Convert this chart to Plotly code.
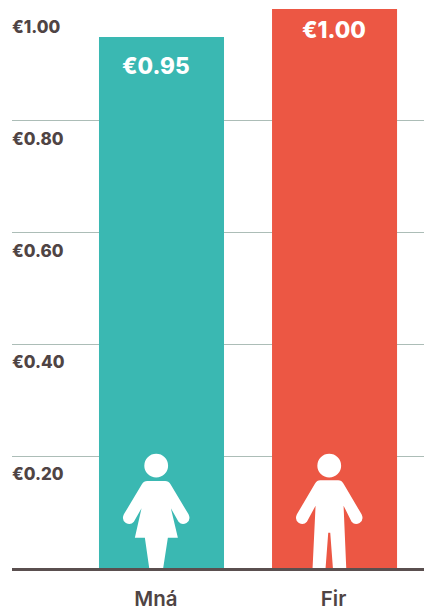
import plotly.graph_objects as go

categories = ["Mná", "Fir"]
bar_positions = [0, 1]
label_positions = [-0.032, 0.994]
values = [0.95, 1.00]
value_labels = ["€0.95", "€1.00"]
bar_colors = ["#3AB8B2", "#EC5744"]
tick_values = [0.2, 0.4, 0.6, 0.8, 1.0]
tick_labels = ["€0.20", "€0.40", "€0.60", "€0.80", "€1.00"]

INK = "#4F4444"
FONT = "Inter"
ICON_SHIFT = -5.3


def z(x, y, cx):
    """Icon outline point, pixels relative to the bar's base."""
    return f"{(x - cx) / 3 + ICON_SHIFT:.2f},{(411 - y) / 3:.2f}"


def path(cmds, cx):
    out = []
    for c in cmds:
        letter, pts = c[0], c[1:]
        out.append(letter + " ".join(z(px, py, cx) for px, py in pts))
    return " ".join(out) + " Z"


woman = [
    ("M", (172, 150)), ("L", (226, 150)), ("Q", (236, 150), (242, 160)),
    ("L", (296, 250)), ("Q", (304, 266), (290, 276)), ("Q", (276, 284), (266, 272)),
    ("L", (243, 232)), ("L", (264, 320)), ("L", (234, 320)), ("L", (220, 411)),
    ("L", (178, 411)), ("L", (165, 320)), ("L", (135, 320)), ("L", (155, 232)),
    ("L", (132, 272)), ("Q", (122, 284), (108, 276)), ("Q", (94, 266), (102, 250)),
    ("L", (156, 160)), ("Q", (162, 150), (172, 150)),
]
man = [
    ("M", (690, 148)), ("L", (744, 148)), ("Q", (754, 148), (760, 158)),
    ("L", (814, 250)), ("Q", (822, 266), (808, 276)), ("Q", (794, 284), (784, 272)),
    ("L", (760, 224)), ("L", (768, 411)), ("L", (728, 411)), ("L", (720, 305)),
    ("L", (714, 305)), ("L", (706, 411)), ("L", (667, 411)), ("L", (676, 224)),
    ("L", (650, 272)), ("Q", (640, 284), (626, 276)), ("Q", (612, 266), (620, 250)),
    ("L", (674, 158)), ("Q", (680, 148), (690, 148)),
]

fig = go.Figure(
    go.Bar(
        x=bar_positions,
        y=values,
        width=0.7225,
        marker=dict(color=bar_colors, line=dict(width=0)),
        hoverinfo="skip",
    )
)

shapes = []
for pos, outline, cx in [(bar_positions[0], woman, 199), (bar_positions[1], man, 717)]:
    shapes.append(dict(
        type="path", xref="x", yref="y", xsizemode="pixel", ysizemode="pixel",
        xanchor=pos, yanchor=0, path=path(outline, cx),
        fillcolor="white", line=dict(width=0), layer="above",
    ))
    shapes.append(dict(
        type="circle", xref="x", yref="y", xsizemode="pixel", ysizemode="pixel",
        xanchor=pos, yanchor=0,
        x0=ICON_SHIFT - 11.9, x1=ICON_SHIFT + 11.9, y0=90.4, y1=114.2,
        fillcolor="white", line=dict(width=0), layer="above",
    ))

annotations = [
    dict(
        x=c, y=v, xref="x", yref="y", text=t, showarrow=False,
        yanchor="middle", yshift=-29 if v < 1 else -20,
        font=dict(family=FONT, size=22.5, color="white", weight=800),
    )
    for c, v, t in zip(label_positions, values, value_labels)
]

fig.update_layout(
    width=424,
    height=609,
    autosize=False,
    margin=dict(l=12, r=0, t=9, b=41, pad=0, autoexpand=False),
    paper_bgcolor="white",
    plot_bgcolor="white",
    showlegend=False,
    shapes=shapes,
    annotations=annotations,
    xaxis=dict(
        automargin=False,
        range=[-0.864, 1.517],
        tickmode="array",
        tickvals=label_positions,
        ticktext=categories,
        showgrid=False,
        ticks="",
        ticklabelstandoff=10,
        tickfont=dict(family=FONT, size=20.5, color=INK, weight=600),
        showline=True,
        linecolor="#5A4F4F",
        linewidth=3,
        zeroline=False,
    ),
    yaxis=dict(
        automargin=False,
        range=[0, 1.0],
        tickvals=tick_values,
        ticktext=tick_labels,
        ticks="",
        ticklabelposition="inside",
        ticklabelshift=18,
        ticklabelstandoff=-3,
        tickfont=dict(family=FONT, size=17, color=INK, weight=800),
        showgrid=True,
        gridcolor="#ACBDB7",
        gridwidth=1,
        zeroline=False,
        showline=False,
    ),
)

fig.write_html(
    "out.html",
    config={"displayModeBar": False},
    post_script="document.body.style.margin='0';",
)
